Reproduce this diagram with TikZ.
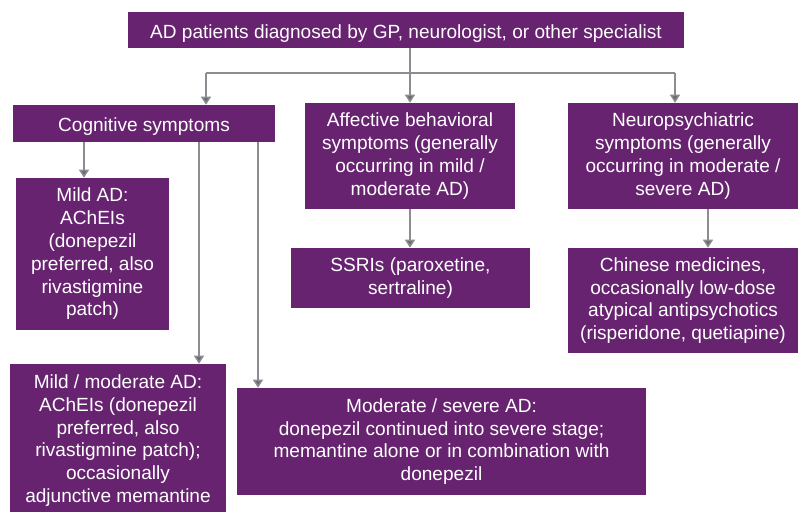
\documentclass[tikz,border=0pt]{standalone}
\usepackage{fontspec}
\setmainfont{Liberation Sans}
\usetikzlibrary{positioning,arrows.meta}
\definecolor{adpurple}{RGB}{103,35,112}
\definecolor{linegrey}{RGB}{140,140,146}
\definecolor{tipgrey}{RGB}{105,105,115}

\begin{document}
\begin{tikzpicture}[x=0.75pt,y=-0.75pt]
		\tikzstyle{every node}+=[inner sep=0pt,font=\fontsize{14.3}{17.1}\selectfont,text=white,align=center]
		\tikzstyle{box}=[fill=adpurple,minimum width=#1*0.75pt,execute at begin node={\rule{0pt}{15.6pt}}]
		\tikzstyle{link}=[draw=linegrey,line width=1.1pt]
		\tikzstyle{arr}=[link,-{Triangle[width=7.5pt,length=6pt,fill=tipgrey]}]
		\useasboundingbox (0,0) rectangle (798,511);
		% top
		\node [box=556,minimum height=27pt] (diag) at (406,30) {AD patients diagnosed by GP, neurologist, or other specialist};
		% symptom groups
		\node [box=262,minimum height=27.75pt] (cog) at (144,123.5) {Cognitive symptoms};
		\node [box=210,minimum height=79.5pt] (aff) at (410,156) {Affective behavioral\\symptoms (generally\\occurring in mild /\\moderate AD)};
		\node [box=230,minimum height=79.5pt] (neuro) at (683,156) {Neuropsychiatric\\symptoms (generally\\occurring in moderate /\\severe AD)};
		% treatments
		\node [box=153,minimum height=114pt] (mild) at (92.5,254) {Mild AD:\\AChEIs\\(donepezil\\preferred, also\\rivastigmine\\patch)};
		\node [box=239,minimum height=45pt] (ssri) at (410.5,278) {SSRIs (paroxetine,\\sertraline)};
		\node [box=230,minimum height=78.75pt] (chin) at (683,300.5) {Chinese medicines,\\occasionally low-dose\\atypical antipsychotics\\(risperidone, quetiapine)};
		\node [box=216,minimum height=114.75pt] (mildmod) at (118,440.5) {Mild / moderate AD:\\AChEIs (donepezil\\preferred, also\\rivastigmine patch);\\occasionally\\adjunctive memantine};
		\node [box=409,minimum height=80.25pt] (modsev) at (441.5,441.5) {Moderate / severe AD:\\donepezil continued into severe stage;\\memantine alone or in combination with\\donepezil};
		% branch points
		\coordinate (split) at (410,73);
		\coordinate (splitL) at (206,73);
		\coordinate (splitR) at (675,73);
		\coordinate (cogA) at (84,0);
		\coordinate (cogB) at (199,0);
		\coordinate (cogC) at (258,0);
		\coordinate (neuroA) at (708,0);
		\draw [link] (diag.south -| split) -- (split);
		\draw [link] (splitL) -- (splitR);
		\draw [arr] (splitL) -- (splitL |- cog.north);
		\draw [arr] (split) -- (split |- aff.north);
		\draw [arr] (splitR) -- (splitR |- neuro.north);
		\draw [arr] (cog.south -| cogA) -- (mild.north -| cogA);
		\draw [arr] (cog.south -| cogB) -- (mildmod.north -| cogB);
		\draw [arr] (cog.south -| cogC) -- (modsev.north -| cogC);
		\draw [arr] (aff.south -| split) -- (ssri.north -| split);
		\draw [arr] (neuro.south -| neuroA) -- (chin.north -| neuroA);
		\end{tikzpicture}
\end{document}
